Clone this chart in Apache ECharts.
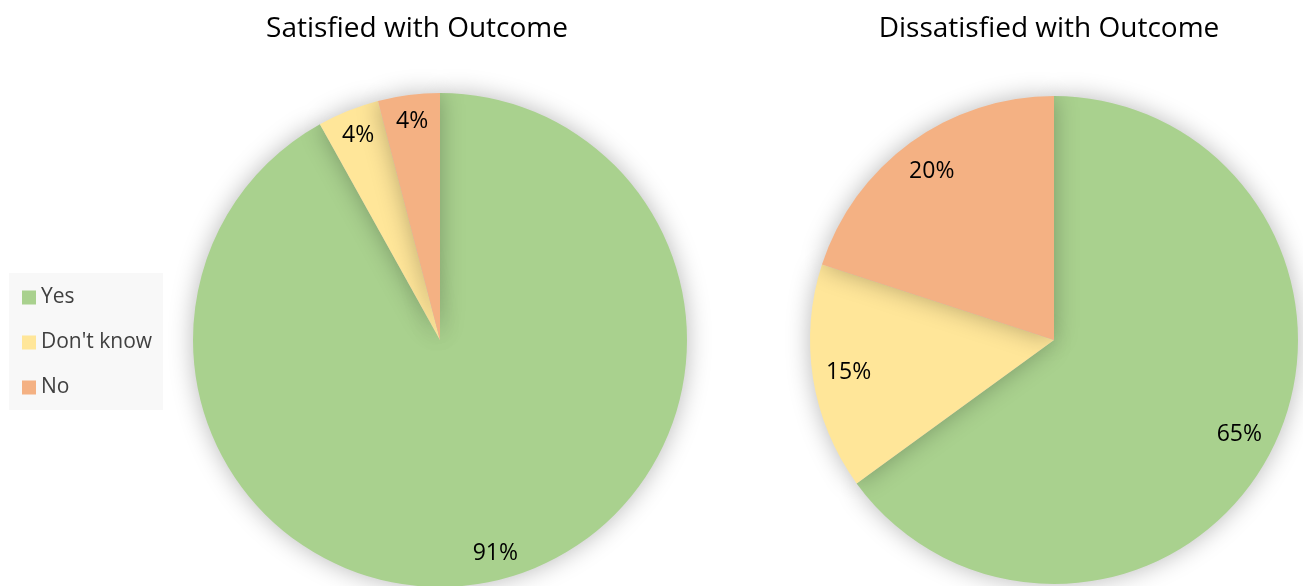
<!DOCTYPE html>
<html>
<head>
<meta charset="utf-8">
<script src="https://cdn.jsdelivr.net/npm/echarts@6/dist/echarts.min.js"></script>
<style>html,body{margin:0;padding:0;background:#fff;}#c{width:1303px;height:586px;}</style>
</head>
<body>
<div id="c"></div>
<script>
const categories = ["Yes", "Don't know", "No"];
const satisfiedValues = [91, 4, 4];
const dissatisfiedValues = [65, 15, 20];
const chartTitles = ["Satisfied with Outcome", "Dissatisfied with Outcome"];
const colors = ["#A9D18E", "#FFE699", "#F4B183"];

const FONT = "Open Sans";
const toData = vals => categories.map((n, i) => ({ name: n, value: vals[i] }));

function mainPie(center, r, vals) {
  return {
    type: 'pie', center: center, radius: [0, r], startAngle: 90, clockwise: true,
    data: toData(vals), label: { show: false }, labelLine: { show: false },
    itemStyle: { shadowBlur: 24, shadowColor: 'rgba(0,0,0,0.28)' },
    emphasis: { disabled: true }, animation: false
  };
}
function labelPie(center, r, inner, vals) {
  return {
    type: 'pie', center: center, radius: [r * inner, r], startAngle: 90, clockwise: true,
    data: toData(vals), silent: true, legendHoverLink: false,
    itemStyle: { color: 'rgba(0,0,0,0)' },
    label: { show: true, position: 'inside', formatter: '{c}%', color: '#000', fontSize: 23, fontFamily: FONT },
    labelLine: { show: false }, emphasis: { disabled: true }, animation: false
  };
}

const chart = echarts.init(document.getElementById('c'), null, { renderer: 'canvas' });
chart.setOption({
  color: colors,
  animation: false,
  title: [
    { text: chartTitles[0], left: 412, top: 10, textAlign: 'center',
      textStyle: { fontFamily: FONT, fontSize: 28, fontWeight: 'normal', color: '#000' } },
    { text: chartTitles[1], left: 1044, top: 10, textAlign: 'center',
      textStyle: { fontFamily: FONT, fontSize: 28, fontWeight: 'normal', color: '#000' } }
  ],
  legend: {
    data: categories, orient: 'vertical', left: 9, top: 273,
    backgroundColor: '#f8f8f8', padding: [14, 11, 12, 13],
    itemWidth: 14, itemHeight: 14, itemGap: 24, icon: 'rect',
    textStyle: { fontFamily: FONT, fontSize: 21, color: '#404040' }
  },
  series: [
    mainPie([440, 340], 247, satisfiedValues),
    mainPie([1054, 340], 244, dissatisfiedValues),
    labelPie([440, 340], 247, 0.76, satisfiedValues),
    labelPie([1054, 340], 244, 0.68, dissatisfiedValues)
  ]
});
</script>
</body>
</html>
